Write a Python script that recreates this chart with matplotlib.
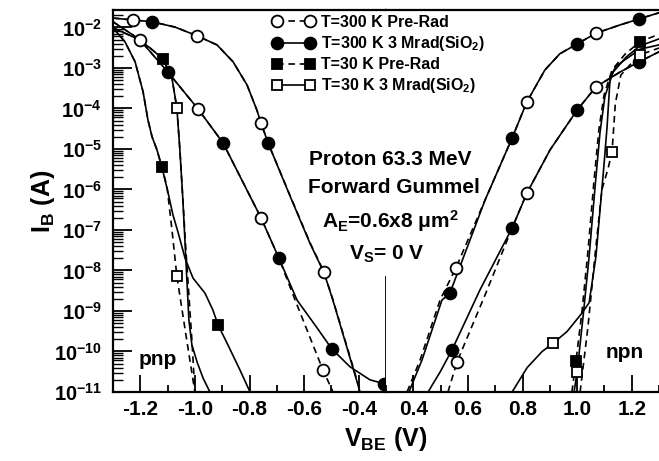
import matplotlib
matplotlib.use("Agg")
import matplotlib.pyplot as plt
from matplotlib.lines import Line2D
from matplotlib.ticker import MultipleLocator, LogLocator, LogFormatterSciNotation, NullFormatter

plt.rcParams["font.family"] = ["Liberation Sans", "DejaVu Sans"]
plt.rcParams["font.weight"] = "bold"
plt.rcParams["mathtext.fontset"] = "custom"
plt.rcParams["mathtext.rm"] = "Liberation Sans:bold"
plt.rcParams["mathtext.it"] = "Liberation Sans:bold"
plt.rcParams["mathtext.bf"] = "Liberation Sans:bold"
plt.rcParams["axes.unicode_minus"] = False

# ---- pnp (V_BE < 0), 300 K ----
pnp_c300_v = [-1.30, -1.227, -1.157, -1.073, -0.992, -0.919, -0.860, -0.809, -0.773,
              -0.758, -0.732, -0.652, -0.578, -0.527, -0.494, -0.450, -0.395]
pnp_c300_i = [1.70e-2, 1.53e-2, 1.38e-2, 1.02e-2, 6.2e-3, 3.7e-3, 1.41e-3, 3.8e-4, 9.1e-5,
              4.4e-5, 1.41e-5, 7.2e-7, 4.8e-8, 9.1e-9, 1.86e-9, 1.9e-10, 1.1e-11]
pnp_c300_rad_i = [1.70e-2, 1.53e-2, 1.38e-2, 1.02e-2, 6.2e-3, 3.7e-3, 1.41e-3, 3.8e-4, 9.1e-5,
                  4.4e-5, 1.41e-5, 7.0e-7, 4.6e-8, 8.8e-9, 1.8e-9, 1.8e-10, 1.0e-11]

pnp_b300_v = [-1.30, -1.201, -1.099, -0.989, -0.897, -0.758, -0.692, -0.633, -0.531, -0.494]
pnp_b300_i = [9.8e-3, 4.9e-3, 7.9e-4, 9.8e-5, 1.41e-5, 2.0e-7, 2.0e-8, 1.86e-9, 3.5e-11, 1.0e-11]
pnp_b300_rad_v = [-1.30, -1.201, -1.099, -0.989, -0.897, -0.758, -0.692, -0.626, -0.560,
                  -0.498, -0.432, -0.359, -0.307]
pnp_b300_rad_i = [9.8e-3, 4.9e-3, 7.9e-4, 9.8e-5, 1.41e-5, 2.0e-7, 2.0e-8, 1.86e-9, 4.5e-10,
                  1.15e-10, 4.2e-11, 2.0e-11, 1.6e-11]

# ---- pnp, 30 K ----
pnp_c30_v = [-1.30, -1.227, -1.164, -1.117, -1.084, -1.066, -1.055, -1.044, -1.033,
             -1.022, -1.011, -1.000]
pnp_c30_i = [1.38e-2, 6.5e-3, 3.1e-3, 1.66e-3, 5.6e-4, 1.02e-4, 9.5e-6, 5.5e-7, 3.2e-8,
             2.5e-9, 1.9e-10, 1.0e-11]
pnp_c30_rad_v = [-1.30, -1.227, -1.164, -1.117, -1.084, -1.066, -1.055, -1.044, -1.033,
                 -1.022, -1.011, -0.992, -0.970, -0.945]
pnp_c30_rad_i = [1.38e-2, 6.5e-3, 3.1e-3, 1.66e-3, 5.6e-4, 1.02e-4, 9.5e-6, 5.5e-7, 1.8e-8,
                 6.0e-10, 1.45e-10, 5.5e-11, 2.2e-11, 1.0e-11]

pnp_b30_v = [-1.300, -1.256, -1.219, -1.190, -1.172, -1.157, -1.139, -1.121, -1.102,
             -1.084, -1.066, -1.033, -1.000]
pnp_b30_i = [9.8e-3, 4.4e-3, 1.41e-3, 2.6e-4, 5.2e-5, 2.0e-5, 9.5e-6, 3.6e-6, 1.15e-6,
             1.0e-7, 7.2e-9, 2.6e-10, 1.0e-11]
pnp_b30_rad_v = [-1.300, -1.256, -1.219, -1.190, -1.172, -1.157, -1.139, -1.121, -1.099,
                 -1.080, -1.062, -1.036, -1.007, -0.963, -0.934, -0.915, -0.879, -0.835, -0.798]
pnp_b30_rad_i = [9.8e-3, 4.4e-3, 1.41e-3, 2.6e-4, 5.2e-5, 2.0e-5, 9.5e-6, 3.6e-6, 8.7e-7,
                 2.3e-7, 8.9e-8, 2.0e-8, 6.5e-9, 2.75e-9, 1.05e-9, 4.5e-10, 1.45e-10, 3.5e-11,
                 1.0e-11]

# ---- npn (V_BE > 0), 300 K ----
npn_c300_v = [0.377, 0.425, 0.498, 0.556, 0.663, 0.762, 0.816, 0.882, 0.937, 1.000,
              1.069, 1.157, 1.227, 1.300]
npn_c300_i = [1.0e-11, 6.2e-11, 1.86e-9, 1.15e-8, 5.5e-7, 1.86e-5, 1.45e-4, 8.9e-4, 2.24e-3,
              3.9e-3, 7.2e-3, 1.15e-2, 1.62e-2, 2.3e-2]
npn_c300_rad_v = [0.384, 0.432, 0.505, 0.534, 0.663, 0.762, 0.816, 0.882, 0.937, 1.000,
                  1.069, 1.157, 1.227, 1.300]
npn_c300_rad_i = [1.0e-11, 6.2e-11, 1.86e-9, 2.75e-9, 5.5e-7, 1.86e-5, 1.45e-4, 8.9e-4, 2.24e-3,
                  3.9e-3, 7.2e-3, 1.15e-2, 1.62e-2, 2.3e-2]

npn_b300_v = [0.527, 0.560, 0.663, 0.762, 0.816, 0.901, 1.000, 1.069, 1.157, 1.227, 1.300]
npn_b300_i = [1.0e-11, 5.5e-11, 2.5e-9, 1.12e-7, 8.1e-7, 9.5e-6, 9.1e-5, 3.4e-4, 7.9e-4,
              1.41e-3, 2.5e-3]
npn_b300_rad_v = [0.454, 0.498, 0.542, 0.644, 0.762, 0.816, 0.901, 1.000, 1.069, 1.157,
                  1.227, 1.300]
npn_b300_rad_i = [1.0e-11, 3.1e-11, 1.1e-10, 3.3e-9, 1.12e-7, 8.1e-7, 9.5e-6, 9.1e-5, 3.4e-4,
                  7.9e-4, 1.41e-3, 2.5e-3]

# ---- npn, 30 K ----
npn_c30_v = [0.981, 0.996, 1.018, 1.040, 1.062, 1.080, 1.099, 1.128, 1.176, 1.230, 1.300]
npn_c30_i = [1.0e-11, 5.9e-11, 1.0e-9, 3.1e-8, 1.66e-6, 3.1e-5, 2.2e-4, 8.9e-4, 2.2e-3,
             4.4e-3, 6.8e-3]
npn_c30_rad_v = [0.989, 1.000, 1.022, 1.044, 1.066, 1.084, 1.102, 1.132, 1.180, 1.230, 1.300]
npn_c30_rad_i = [1.0e-11, 3.1e-11, 7.4e-10, 2.2e-8, 1.2e-6, 2.6e-5, 2.0e-4, 7.9e-4, 1.86e-3,
                 3.5e-3, 5.2e-3]

npn_b30_v = [1.011, 1.040, 1.066, 1.091, 1.113, 1.128, 1.140, 1.160, 1.190, 1.230, 1.300]
npn_b30_i = [1.0e-11, 4.2e-10, 2.5e-8, 1.0e-6, 3.2e-6, 8.5e-6, 1.3e-4, 6.6e-4, 1.12e-3,
             2.1e-3, 3.1e-3]
npn_b30_rad_v = [0.762, 0.817, 0.872, 0.912, 0.963, 1.018, 1.044, 1.069, 1.099, 1.110,
                 1.121, 1.143, 1.190, 1.230, 1.300]
npn_b30_rad_i = [1.0e-11, 4.0e-11, 1.0e-10, 1.6e-10, 3.1e-10, 8.9e-10, 1.6e-9, 2.2e-8,
                 4.4e-6, 3.7e-5, 5.8e-4, 1.12e-3, 1.86e-3, 2.9e-3, 3.7e-3]

# sparse markers along the curves
pre300_v = [-1.227, -0.992, -0.758, -0.527, -1.201, -0.989, -0.758, -0.531,
            0.556, 0.816, 1.069, 0.560, 0.816, 1.069]
pre300_i = [1.53e-2, 6.2e-3, 4.4e-5, 9.1e-9, 4.9e-3, 9.8e-5, 2.0e-7, 3.5e-11,
            1.15e-8, 1.45e-4, 7.2e-3, 5.5e-11, 8.1e-7, 3.4e-4]
rad300_v = [-1.157, -0.732, -1.099, -0.897, -0.692, -0.498, -0.307,
            0.534, 0.762, 1.000, 1.227, 0.542, 0.762, 1.000, 1.227]
rad300_i = [1.38e-2, 1.41e-5, 7.9e-4, 1.41e-5, 2.0e-8, 1.15e-10, 1.6e-11,
            2.75e-9, 1.86e-5, 3.9e-3, 1.62e-2, 1.1e-10, 1.12e-7, 9.1e-5, 1.41e-3]
pre30_v = [-1.117, -1.121, -0.915, 0.996, 1.230]
pre30_i = [1.66e-3, 3.6e-6, 4.5e-10, 5.9e-11, 4.4e-3]
rad30_v = [-1.066, -1.066, 0.912, 1.000, 1.128, 1.230]
rad30_i = [1.02e-4, 7.2e-9, 1.6e-10, 3.1e-11, 8.5e-6, 2.1e-3]

legend_labels = ["T=300 K Pre-Rad", r"T=300 K 3 Mrad(SiO$_2$)",
                 "T=30 K Pre-Rad", r"T=30 K 3 Mrad(SiO$_2$)"]

DASH = (0, (4.0, 2.8))
LW = 1.2

fig = plt.figure(figsize=(6.59, 4.61), dpi=100)
axl = fig.add_axes([113 / 659, 69 / 461, 273 / 659, 382 / 461])
axr = fig.add_axes([386 / 659, 69 / 461, 273 / 659, 382 / 461], sharey=axl)


def split(vs, iis, neg):
    pv = [v for v in vs if (v < 0) == neg]
    pi = [i for v, i in zip(vs, iis) if (v < 0) == neg]
    return pv, pi


curves = [
    (pnp_c300_v, pnp_c300_i, DASH), (pnp_c300_v, pnp_c300_rad_i, "-"),
    (pnp_b300_v, pnp_b300_i, DASH), (pnp_b300_rad_v, pnp_b300_rad_i, "-"),
    (pnp_c30_v, pnp_c30_i, DASH), (pnp_c30_rad_v, pnp_c30_rad_i, "-"),
    (pnp_b30_v, pnp_b30_i, DASH), (pnp_b30_rad_v, pnp_b30_rad_i, "-"),
    (npn_c300_v, npn_c300_i, DASH), (npn_c300_rad_v, npn_c300_rad_i, "-"),
    (npn_b300_v, npn_b300_i, DASH), (npn_b300_rad_v, npn_b300_rad_i, "-"),
    (npn_c30_v, npn_c30_i, DASH), (npn_c30_rad_v, npn_c30_rad_i, "-"),
    (npn_b30_v, npn_b30_i, DASH), (npn_b30_rad_v, npn_b30_rad_i, "-"),
]
markers = [
    (pre300_v, pre300_i, "o", "white"), (rad300_v, rad300_i, "o", "black"),
    (pre30_v, pre30_i, "s", "black"), (rad30_v, rad30_i, "s", "white"),
]

for ax, neg in ((axl, True), (axr, False)):
    for vs, iis, ls in curves:
        pv, pi = split(vs, iis, neg)
        if pv:
            ax.plot(pv, pi, color="k", lw=LW, ls=ls, zorder=2)
    for vs, iis, mk, fc in markers:
        pv, pi = split(vs, iis, neg)
        ax.plot(pv, pi, ls="none", marker=mk, ms=8.5 if mk == "o" else 7.5,
                mfc=fc, mec="black", mew=1.3, zorder=3, clip_on=False)

axl.set_yscale("log")
axl.set_ylim(1e-11, 10 ** -1.57)
axl.set_xlim(-1.3, -0.3)
axr.set_xlim(0.3, 1.3)

for ax in (axl, axr):
    ax.xaxis.set_major_locator(MultipleLocator(0.2))
    ax.xaxis.set_minor_locator(MultipleLocator(0.1))
    ax.tick_params(axis="x", which="major", direction="in", length=12, width=1.3,
                   labelsize=15, pad=6, top=False)
    ax.tick_params(axis="x", which="minor", direction="in", length=5, width=1.3, top=False)
    for s in ax.spines.values():
        s.set_linewidth(1.6)
    ax.xaxis.set_major_formatter(plt.FuncFormatter(lambda x, p: f"{x:.1f}"))

axl.set_xticks([-1.2, -1.0, -0.8, -0.6, -0.4])
axr.set_xticks([0.4, 0.6, 0.8, 1.0, 1.2])
axl.spines["right"].set_visible(False)
axr.spines["left"].set_visible(False)
axr.spines["right"].set_visible(False)

axl.yaxis.set_major_locator(LogLocator(base=10, numticks=20))
axl.yaxis.set_minor_locator(LogLocator(base=10, subs=range(2, 10), numticks=20))
axl.yaxis.set_major_formatter(LogFormatterSciNotation())
axl.yaxis.set_minor_formatter(NullFormatter())
axl.tick_params(axis="y", which="major", direction="in", length=14, width=1.3,
                labelsize=14.5, pad=8, right=False)
axl.tick_params(axis="y", which="minor", direction="in", length=7, width=1.0, right=False)
axr.tick_params(axis="y", which="both", left=False, right=False, labelleft=False)

axl.set_ylabel(r"$\mathrm{I_B\ (A)}$", fontsize=18)
axl.yaxis.set_label_coords(-0.205, 0.5)
fig.text(386 / 659, 1 - 446 / 461, r"$\mathrm{V_{BE}\ (V)}$", fontsize=18,
         ha="center", va="baseline")

# annotation text in the middle
fig.text(390 / 659, 1 - 165 / 461, "Proton 63.3 MeV", fontsize=15, ha="center", va="baseline")
fig.text(394 / 659, 1 - 193 / 461, "Forward Gummel", fontsize=15, ha="center", va="baseline")
fig.text(390 / 659, 1 - 228 / 461, r"$\mathrm{A_E}$=0.6x8 μm$^2$", fontsize=15,
         ha="center", va="baseline")
fig.text(387 / 659, 1 - 260 / 461, r"$\mathrm{V_S}$= 0 V", fontsize=15, ha="center", va="baseline")
axl.plot([-0.3, -0.3], [1e-11, 7e-9], color="k", lw=1.3, clip_on=False, zorder=2)
fig.text(158 / 659, 1 - 365 / 461, "pnp", fontsize=15, ha="center", va="baseline")
fig.text(625 / 659, 1 - 358 / 461, "npn", fontsize=15, ha="center", va="baseline")

handles = [
    Line2D([], [], color="k", lw=LW, ls=DASH, marker="o", ms=8.5, mfc="white", mec="k", mew=1.3),
    Line2D([], [], color="k", lw=LW, ls="-", marker="o", ms=8.5, mfc="black", mec="k", mew=1.3),
    Line2D([], [], color="k", lw=LW, ls=DASH, marker="s", ms=7.5, mfc="black", mec="k", mew=1.3),
    Line2D([], [], color="k", lw=LW, ls="-", marker="s", ms=7.5, mfc="white", mec="k", mew=1.3),
]
fig.legend(handles, legend_labels, loc="upper left", bbox_to_anchor=(272 / 659, 1 - 15 / 461),
           frameon=False, fontsize=11.5, numpoints=2, handlelength=2.65, handletextpad=0.4,
           labelspacing=0.26, borderpad=0, borderaxespad=0)

fig.savefig("out.png", dpi=100)
